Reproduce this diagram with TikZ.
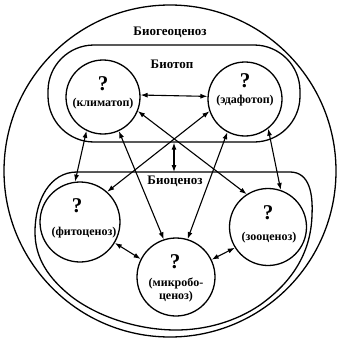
\documentclass[tikz,border=0pt]{standalone}
\usepackage{fontspec}
\setmainfont{Liberation Serif}
\usetikzlibrary{arrows.meta}
\begin{document}
\begin{tikzpicture}[x=1pt,y=-1pt,
  line width=1.3pt,
  sub/.style={circle,draw,minimum size=74pt,inner sep=0pt},
  q/.style={font=\bfseries\fontsize{21}{21}\selectfont,inner sep=0pt},
  lab/.style={font=\bfseries\fontsize{12}{13.5}\selectfont,inner sep=0pt,align=center},
  ttl/.style={font=\bfseries\fontsize{13}{14}\selectfont,inner sep=0pt},
  arr/.style={{Latex[length=7pt,width=5pt]}-{Latex[length=7pt,width=5pt]},line width=1.1pt}]
\useasboundingbox (0,0) rectangle (338,340);
% outer circle
\node[circle,draw,minimum size=332pt,inner sep=0pt] (bgc) at (170,171) {};
\node[ttl] (bgct) at (170,32) {Биогеоценоз};
% biotop
\node[draw,rounded corners=46pt,minimum width=252pt,minimum height=97pt,inner sep=0pt] (biotop) at (174,93.5) {};
\node[ttl] (biotopt) at (172,64) {Биотоп};
% biocenosis
\draw (77,172) -- (290,172)
  .. controls (310,172) and (313,195) .. (312,215)
  .. controls (311,250) and (295,280) .. (260,305)
  .. controls (235,322) and (205,330) .. (176,330)
  .. controls (140,330) and (100,318) .. (72,297)
  .. controls (48,278) and (35,258) .. (35,232)
  .. controls (35,200) and (50,172) .. (77,172) -- cycle;
\coordinate (bcntop) at (174,172);
\node[ttl] (bcnt) at (175,181) {Биоценоз};
% circles
\node[sub] (clim) at (103,97) {};
\node[sub] (edaf) at (245,99) {};
\node[sub,minimum size=80pt] (phyto) at (80,222) {};
\node[sub,minimum size=77pt] (zoo) at (268,227) {};
\node[sub,minimum size=78pt] (micro) at (176,277) {};
% texts
\node[q] (climq) at (103,84) {?};
\node[lab] (climl) at (103,104) {(климатоп)};
\node[q] (edafq) at (245,81) {?};
\node[lab] (edafl) at (245,101) {(эдафотоп)};
\node[q] (phytoq) at (77,206) {?};
\node[lab] (phytol) at (84,233) {(фитоценоз)};
\node[q] (zooq) at (268,213) {?};
\node[lab] (zool) at (269,238) {(зооценоз)};
\node[q] (microq) at (175,262) {?};
\node[lab] (microl) at (176,290) {(микробо-\\ценоз)};
% arrows
\draw[arr] (clim.3) -- (edaf.176);
\draw[arr] (biotop.south -| bcntop) -- (bcntop);
\draw[arr] (clim.-116) -- (phyto.97);
\draw[arr] (clim.-65) -- (micro.108);
\draw[arr] (clim.-22) -- (zoo.123);
\draw[arr] (edaf.199) -- (phyto.48);
\draw[arr] (edaf.-118) -- (micro.73);
\draw[arr] (edaf.-52) -- (zoo.71);
\draw[arr] (phyto.-31) -- (micro.153);
\draw[arr] (zoo.212) -- (micro.26);
\end{tikzpicture}
\end{document}
